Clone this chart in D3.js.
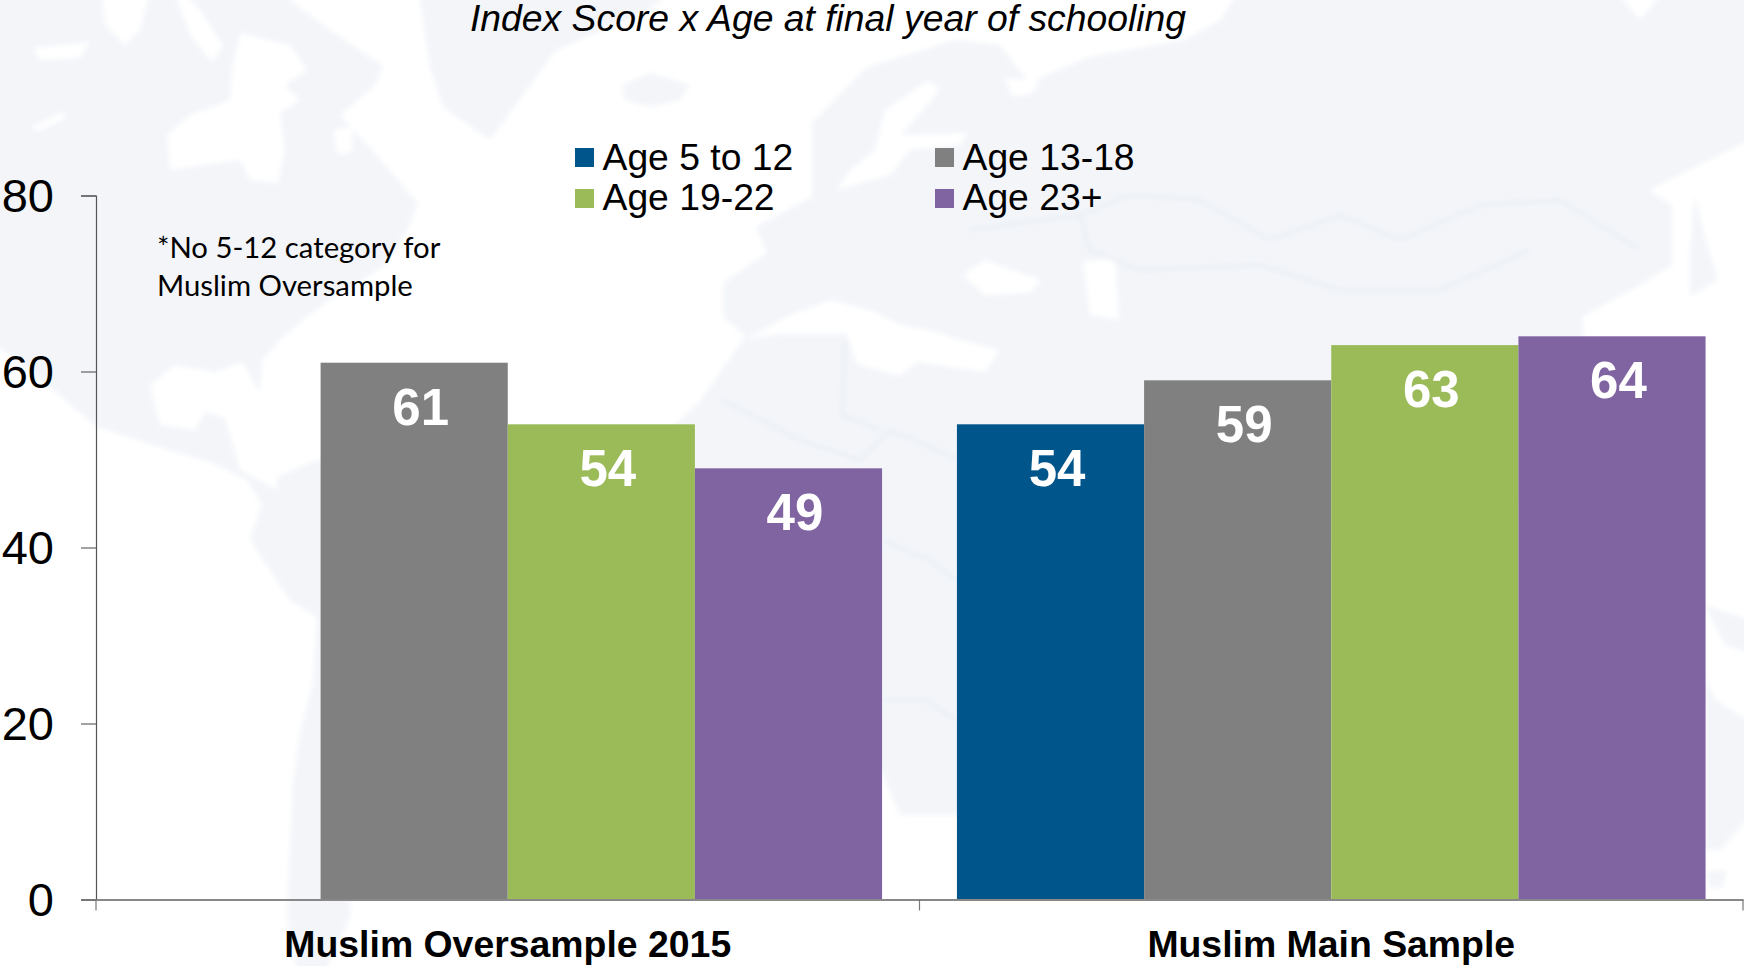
<!DOCTYPE html>
<html>
<head>
<meta charset="utf-8">
<script src="https://cdn.jsdelivr.net/npm/d3@7"></script>
<style>
	html, body { margin: 0; padding: 0; background: #fff; overflow: hidden; }
	svg { display: block; }
	text { font-family: "Liberation Sans", Arial, sans-serif; fill: #000; }
</style>
</head>
<body>
<div id="chart"></div>
<script>
var groups = ["Muslim Oversample 2015", "Muslim Main Sample"];
var ages = ["Age 5 to 12", "Age 13-18", "Age 19-22", "Age 23+"];
var oversample = [null, 61, 54, 49];
var mainSample = [54, 59, 63, 64];
var colors = ["#00558b", "#808080", "#9bbb59", "#8064a2"];
var yTicks = [0, 20, 40, 60, 80];
var footnote = ["*No 5-12 category for", "Muslim Oversample"];
var title = "Index Score x Age at final year of schooling";

var w = 1744, h = 966;
var svg = d3.select("#chart").append("svg").attr("width", w).attr("height", h);

svg.append("defs").append("filter").attr("id", "soft")
	.attr("filterUnits", "userSpaceOnUse")
	.attr("x", -20).attr("y", -20).attr("width", w + 40).attr("height", h + 40)
	.append("feGaussianBlur").attr("stdDeviation", 2.6);

// faint world map behind the chart, traced by eye
var land = [
	[[-20,-20],[290,-20],[290,0],[330,30],[383,66],[375,85],[340,115],[360,137],[385,165],[418,203],[406,233],[383,267],[330,300],[306,317],[280,340],[262,360],[260,393],[243,362],[215,372],[175,365],[150,385],[160,425],[195,430],[205,412],[225,418],[240,470],[277,490],[277,477],[317,460],[400,480],[470,540],[430,640],[370,720],[350,800],[350,917],[319,986],[300,986],[287,917],[293,783],[300,733],[313,683],[317,617],[290,600],[250,540],[262,505],[247,480],[213,463],[147,443],[97,427],[33,373],[-20,333]],
	[[417,-20],[690,-20],[640,15],[556,50],[490,140],[480,133],[443,107],[430,67]],
	[[622,85],[650,73],[690,85],[680,100],[650,107],[625,100]],
	[[812,123],[867,67],[956,40],[1000,45],[1029,83],[1089,57],[1185,40],[1221,20],[1245,-20],[1607,-20],[1640,20],[1673,-20],[1764,-20],[1764,133],[1649,190],[1672,205],[1672,265],[1643,283],[1582,317],[1600,520],[1500,500],[1400,440],[1340,560],[1250,440],[1130,470],[1080,640],[1000,815],[900,815],[882,773],[800,640],[660,440],[700,401],[740,344],[745,335],[723,317],[723,283],[767,253],[756,227],[812,197]],
	[[1695,194],[1703,230],[1718,280],[1690,296],[1690,250]],
	[[1705,605],[1764,625],[1764,657],[1725,645]],
	[[1705,675],[1715,700],[1764,730],[1764,800],[1720,850],[1705,850]],
	[[1707,872],[1727,870],[1722,888],[1710,888]]
];
var seas = [
	[[167,135],[190,115],[230,100],[232,70],[240,33],[290,45],[307,70],[285,85],[300,100],[280,113],[285,150],[278,183],[250,180],[240,160],[205,165],[170,170]],
	[[100,-20],[153,-20],[140,30],[125,45],[105,25]],
	[[170,-20],[200,10],[223,45],[212,62],[190,35]],
	[[33,48],[90,42],[80,58],[40,60]],
	[[30,128],[62,112],[66,118],[40,131]],
	[[333,130],[353,127],[352,152],[338,155]],
	[[929,80],[940,90],[910,125],[900,135],[968,133],[960,145],[910,150],[890,175],[836,190],[850,170],[875,150],[885,110]],
	[[1005,78],[1040,82],[1030,95],[1012,96]],
	[[963,275],[985,260],[1041,280],[1030,293],[985,295]],
	[[1083,262],[1115,258],[1119,320],[1090,315]],
	[[745,340],[790,315],[830,300],[870,310],[900,325],[930,330],[960,340],[1000,350],[985,372],[917,362],[900,376],[857,364],[847,334],[780,334]]
];
var borderLines = [
	[[970,230],[1080,215],[1130,195],[1200,200],[1270,240],[1340,215],[1400,240],[1480,205],[1560,200],[1640,250]],
	[[1080,215],[1090,250],[1140,270],[1260,265],[1340,290],[1440,290],[1530,250]],
	[[722,400],[800,440],[860,460],[890,430],[960,460]],
	[[845,340],[842,415],[880,430]],
	[[882,540],[930,560],[956,580]],
	[[882,700],[925,700],[956,720]]
];
var lineGen = d3.line().curve(d3.curveLinearClosed);
var openLine = d3.line();
var map = svg.append("g").attr("id", "map").attr("filter", "url(#soft)");
map.selectAll(".land").data(land).enter().append("path").attr("class", "land")
	.attr("d", lineGen).attr("fill", "#f3f5f9");
map.selectAll(".sea").data(seas).enter().append("path").attr("class", "sea")
	.attr("d", lineGen).attr("fill", "#fff");
map.selectAll(".border").data(borderLines).enter().append("path").attr("class", "border")
	.attr("d", openLine).attr("fill", "none").attr("stroke", "#e6eaf1").attr("stroke-width", 2);

// scales
var y = d3.scaleLinear().domain([0, 80]).range([899.5, 195.5]);
var x0 = d3.scaleBand().domain(groups).range([96, 1743]);
var x1 = d3.scaleBand().domain(ages).range([0, x0.bandwidth()]).paddingInner(0).paddingOuter(0.2);
var color = d3.scaleOrdinal().domain(ages).range(colors);

var rows = [oversample, mainSample];

var g = svg.append("g").attr("id", "bars");
groups.forEach(function(group, i) {
	var cells = ages.map(function(age, j) { return {age: age, value: rows[i][j]}; })
		.filter(function(d) { return d.value !== null; });
	var col = g.append("g").attr("transform", "translate(" + x0(group) + ",0)");
	col.selectAll("rect").data(cells).enter().append("rect")
		.attr("x", function(d) { return x1(d.age); })
		.attr("y", function(d) { return y(d.value); })
		.attr("width", x1.bandwidth())
		.attr("height", function(d) { return y(0) - y(d.value); })
		.attr("fill", function(d) { return color(d.age); });
	col.selectAll("text").data(cells).enter().append("text")
		.attr("x", function(d) { return x1(d.age) + x1.bandwidth() / 2 + 6.5; })
		.attr("y", function(d) { return y(d.value) + 62; })
		.attr("text-anchor", "middle")
		.style("font-size", "51px").style("font-weight", "bold").style("fill", "#fff")
		.text(function(d) { return d.value; });
});

// axes
var yAxis = svg.append("g").attr("transform", "translate(96,0)")
	.call(d3.axisLeft(y).tickValues(yTicks).tickSize(15).tickPadding(27));
yAxis.selectAll("text").style("font-size", "47px").attr("dy", "0.34em");
yAxis.select(".domain").attr("stroke", "#555").attr("stroke-width", 1.2);
yAxis.selectAll(".tick line").attr("stroke", "#444").attr("stroke-width", 1);

var xAxis = svg.append("g").attr("transform", "translate(0," + y(0) + ")")
	.call(d3.axisBottom(x0).tickSize(0).tickPadding(31));
xAxis.selectAll("text").style("font-size", "37.4px").style("font-weight", "bold").attr("dy", "0.71em");
xAxis.select(".domain").attr("stroke", "#888").attr("stroke-width", 2);

var edges = groups.map(function(d) { return x0(d); }).concat([x0.range()[1]]);
svg.selectAll(".edge").data(edges).enter().append("line").attr("class", "edge")
	.attr("x1", function(d) { return d; }).attr("x2", function(d) { return d; })
	.attr("y1", y(0)).attr("y2", y(0) + 11)
	.attr("stroke", "#777").attr("stroke-width", 1.2);

// title
svg.append("text").attr("x", 470).attr("y", 31)
	.style("font-size", "37.3px").style("font-style", "italic").text(title);

// legend, two by two
var legend = svg.selectAll(".legend").data(ages).enter().append("g").attr("class", "legend")
	.attr("transform", function(d, i) {
		return "translate(" + (i % 2 ? 935 : 575) + "," + (i < 2 ? 148 : 189) + ")";
	});
legend.append("rect").attr("width", 19).attr("height", 19)
	.attr("fill", function(d) { return color(d); });
legend.append("text").attr("x", 27.5).attr("y", function(d, i) { return i < 2 ? 22 : 21; })
	.style("font-size", "37.3px").text(function(d) { return d; });

// footnote
svg.selectAll(".note").data(footnote).enter().append("text").attr("class", "note")
	.attr("x", 157).attr("y", function(d, i) { return 258 + i * 38; })
	.style("font-family", "Lato, sans-serif").style("font-size", "29.3px")
	.text(function(d) { return d; });
</script>
</body>
</html>
